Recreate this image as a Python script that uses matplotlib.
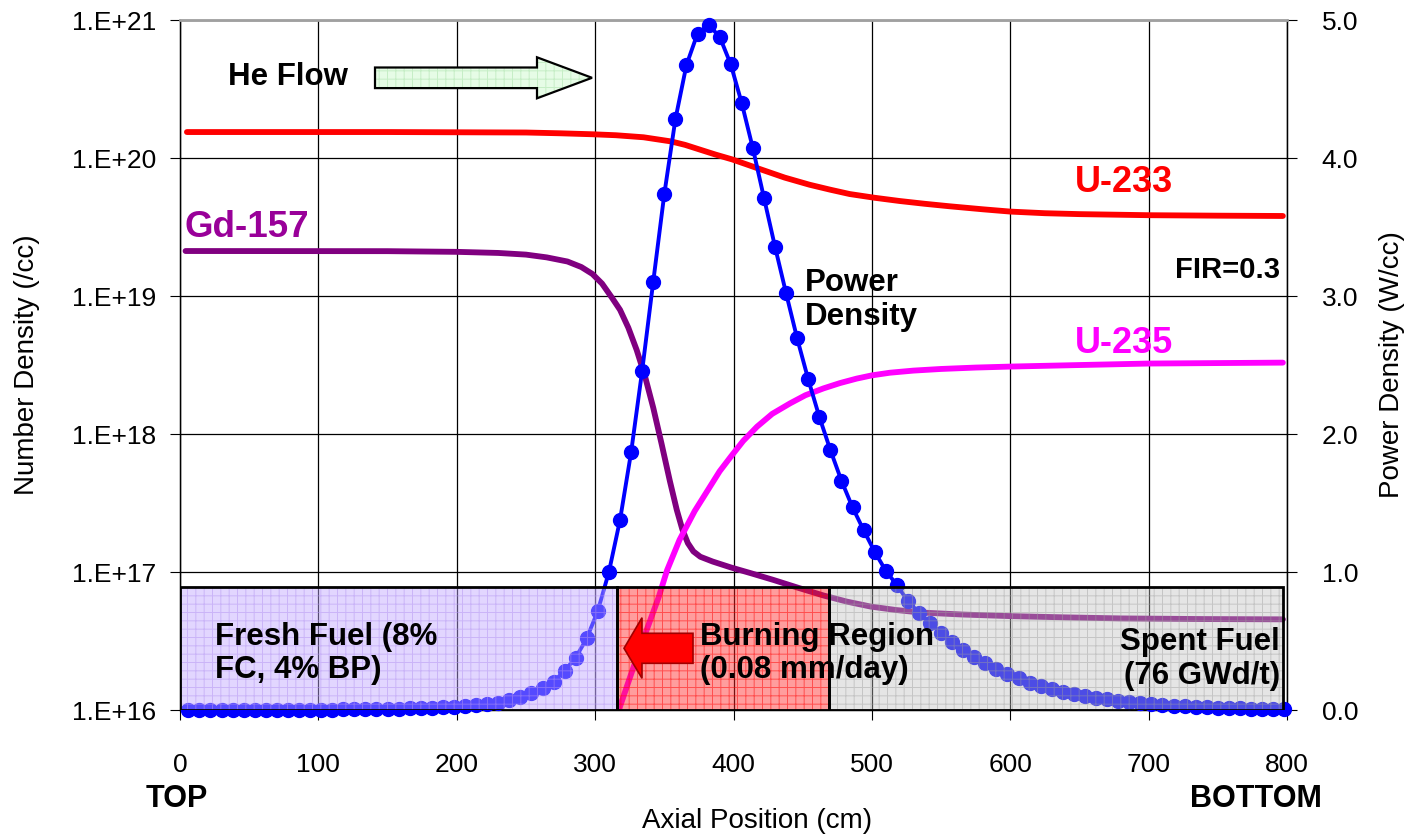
import numpy as np
import matplotlib
matplotlib.use('Agg')
import matplotlib.pyplot as plt
from matplotlib.patches import Polygon, Rectangle
from matplotlib.ticker import NullLocator

plt.rcParams['font.family'] = ['Liberation Sans', 'DejaVu Sans']
plt.rcParams['hatch.linewidth'] = 0.7

# power density on the axial mesh (cm), W/cc
axial_mesh = np.arange(6, 800, 8)
power_density = [
    0.0, 0.0, 0.0, 0.0, 0.0, 0.001, 0.001, 0.001, 0.001, 0.002,
    0.002, 0.002, 0.003, 0.003, 0.004, 0.005, 0.006, 0.007, 0.008, 0.009,
    0.011, 0.013, 0.016, 0.019, 0.023, 0.028, 0.035, 0.043, 0.054, 0.072,
    0.092, 0.120, 0.157, 0.205, 0.285, 0.380, 0.520, 0.720, 1.002, 1.377,
    1.867, 2.459, 3.104, 3.739, 4.280, 4.674, 4.902, 4.964, 4.879, 4.679,
    4.396, 4.070, 3.712, 3.357, 3.020, 2.693, 2.396, 2.125, 1.884, 1.662,
    1.469, 1.304, 1.147, 1.010, 0.906, 0.790, 0.705, 0.628, 0.560, 0.495,
    0.435, 0.382, 0.338, 0.295, 0.260, 0.230, 0.198, 0.174, 0.152, 0.133,
    0.116, 0.101, 0.087, 0.077, 0.067, 0.058, 0.050, 0.043, 0.037, 0.032,
    0.027, 0.023, 0.020, 0.017, 0.014, 0.012, 0.010, 0.008, 0.007, 0.006,
]

# number densities (/cc)
u233_x = [5, 150, 250, 275, 298, 315, 335, 355, 365, 376, 387, 399, 409, 419, 437,
          455, 470, 484, 502, 520, 538, 556, 580, 600, 625, 650, 700, 750, 797]
u233_nd = [1.542e20, 1.542e20, 1.53e20, 1.51e20, 1.486e20, 1.462e20, 1.413e20,
           1.318e20, 1.245e20, 1.148e20, 1.059e20, 9.77e19, 9.02e19, 8.32e19,
           7.21e19, 6.40e19, 5.89e19, 5.48e19, 5.15e19, 4.88e19, 4.66e19, 4.47e19,
           4.25e19, 4.09e19, 3.98e19, 3.92e19, 3.85e19, 3.82e19, 3.80e19]

gd157_x = [4, 150, 200, 230, 250, 265, 280, 290, 298, 305, 312, 318, 324, 330,
           336, 342, 348, 354, 359, 363, 367, 371, 376, 385, 398, 413, 429, 447,
           465, 482, 499, 517, 535, 565, 600, 640, 680, 740, 797]
gd157_nd = [2.118e19, 2.113e19, 2.089e19, 2.051e19, 1.995e19, 1.905e19, 1.778e19,
            1.622e19, 1.445e19, 1.230e19, 9.77e18, 7.94e18, 5.89e18, 4.07e18,
            2.63e18, 1.55e18, 8.51e17, 4.57e17, 2.82e17, 2.04e17, 1.62e17, 1.41e17,
            1.29e17, 1.19e17, 1.08e17, 9.77e16, 8.75e16, 7.67e16, 6.76e16, 6.10e16,
            5.62e16, 5.31e16, 5.09e16, 4.92e16, 4.79e16, 4.69e16, 4.61e16, 4.56e16,
            4.54e16]

u235_x = [316, 318, 326, 335, 346, 352, 361, 372, 383, 390, 398, 407, 417, 428,
          441, 452, 465, 477, 489, 500, 513, 530, 550, 575, 600, 650, 700, 797]
u235_nd = [9.0e15, 1.06e16, 1.82e16, 3.3e16, 6.6e16, 1.03e17, 1.71e17, 2.77e17,
           4.15e17, 5.37e17, 6.84e17, 8.91e17, 1.13e18, 1.40e18, 1.67e18, 1.91e18,
           2.14e18, 2.34e18, 2.52e18, 2.66e18, 2.78e18, 2.88e18, 2.96e18, 3.03e18,
           3.08e18, 3.16e18, 3.24e18, 3.29e18]

region_edges = [0, 316, 469, 797]
region_labels = ['Fresh Fuel (8%\nFC, 4% BP)', 'Burning Region\n(0.08 mm/day)',
                 'Spent Fuel\n(76 GWd/t)']

density_ticks = [1e16, 1e17, 1e18, 1e19, 1e20, 1e21]
density_labels = ['1.E+16', '1.E+17', '1.E+18', '1.E+19', '1.E+20', '1.E+21']
power_ticks = [0, 1, 2, 3, 4, 5]
power_labels = ['0.0', '1.0', '2.0', '3.0', '4.0', '5.0']

W, H = 1411, 835
L, R, T, B = 180, 1287, 20, 710
fig = plt.figure(figsize=(W / 100, H / 100), dpi=100)
ax = fig.add_axes([L / W, 1 - B / H, (R - L) / W, (B - T) / H])
ax2 = ax.twinx()


def frac(x, y):
    # pixel position in the picture -> axes fraction
    return ((x - L) / (R - L), (B - y) / (B - T))


# left axis: number density
ax.set_yscale('log')
ax.set_xlim(0, 800)
ax.set_ylim(1e16, 1e21)
ax.set_xticks(range(0, 801, 100))
ax.set_yticks(density_ticks)
ax.set_yticklabels(density_labels)
ax.yaxis.set_minor_locator(NullLocator())
ax.grid(True, color='black', lw=0.9)
ax.set_axisbelow(True)
ax.tick_params(axis='x', direction='out', length=7, pad=24, labelsize=19)
ax.tick_params(axis='y', direction='out', length=7, pad=10, labelsize=19)

ax.plot(u233_x, u233_nd, color='#FF0000', lw=4.2, solid_capstyle='round')
ax.plot(gd157_x, gd157_nd, color='#800080', lw=4.2, solid_capstyle='round')
ax.plot(u235_x, u235_nd, color='#FF00FF', lw=4.2, solid_capstyle='round')

# right axis: power density
ax2.set_ylim(0, 5)
ax2.set_yticks(power_ticks)
ax2.set_yticklabels(power_labels)
ax2.tick_params(axis='y', direction='out', length=7, pad=18, labelsize=19)
ax2.plot(axial_mesh, power_density, color='#0000FF', lw=2.8, marker='o',
         markersize=10, clip_on=False, zorder=3)

for s in ['left', 'right', 'bottom']:
    ax2.spines[s].set_color('black')
    ax2.spines[s].set_linewidth(1.0)
ax2.spines['top'].set_color('#A0A0A0')
ax2.spines['top'].set_linewidth(2.0)

# region boxes
box_top = 0.891
faces = [((0.75, 0.65, 1.0, 0.45), (0.70, 0.58, 0.95, 0.50)),
         ((1.0, 0.15, 0.15, 0.45), (1.0, 0.0, 0.0, 0.50)),
         ((0.75, 0.75, 0.75, 0.40), (0.62, 0.62, 0.62, 0.45))]
for i in range(3):
    x0, x1 = region_edges[i], region_edges[i + 1]
    face, hcol = faces[i]
    ax2.add_patch(Rectangle((x0, 0), x1 - x0, box_top, facecolor=face,
                            edgecolor=hcol, hatch='++', lw=0, zorder=5))
    ax2.add_patch(Rectangle((x0, 0), x1 - x0, box_top, fill=False,
                            edgecolor='black', lw=2.0, zorder=6))

bold = dict(fontweight='bold', fontsize=22.5, zorder=8, linespacing=1.15)
ax2.text(25, 0.41, region_labels[0], ha='left', va='center', **bold)
ax2.text(376, 0.41, region_labels[1], ha='left', va='center', **bold)
ax2.text(795, 0.37, region_labels[2], ha='right', va='center', **bold)

# He flow arrow (green) and burning direction arrow (red)
he = [frac(375, 67.5), frac(537, 67.5), frac(537, 57.3), frac(592, 77.8),
      frac(537, 98.3), frac(537, 88.1), frac(375, 88.1)]
ax2.add_patch(Polygon(he, closed=True, transform=ax2.transAxes, facecolor='#E6FCE6',
                      edgecolor='#C6EEC6', lw=0, hatch='++', zorder=7))
ax2.add_patch(Polygon(he, closed=True, transform=ax2.transAxes, fill=False,
                      edgecolor='black', lw=1.6, zorder=7))
burn = [frac(693, 633.3), frac(642, 633.3), frac(642, 617.7), frac(624, 648.3),
        frac(642, 678.3), frac(642, 663.3), frac(693, 663.3)]
ax2.add_patch(Polygon(burn, closed=True, transform=ax2.transAxes, facecolor='#FF0000',
                      edgecolor='#A00000', lw=1.2, zorder=7))

# annotations
ax.text(34.7, 10 ** 20.587, 'He Flow', fontsize=22.5, fontweight='bold', va='center')
ax.text(3.6, 10 ** 19.493, 'Gd-157', fontsize=26.5, fontweight='bold', va='center',
        color='#990099')
ax.text(647, 10 ** 19.819, 'U-233', fontsize=26, fontweight='bold', va='center',
        color='#FF0000')
ax.text(647, 10 ** 18.659, 'U-235', fontsize=26, fontweight='bold', va='center',
        color='#FF00FF')
ax.text(795, 10 ** 19.188, 'FIR=0.3', fontsize=21, fontweight='bold', va='center',
        ha='right')
ax.text(451.7, 10 ** 18.971, 'Power\nDensity', fontsize=22.5, fontweight='bold',
        va='center', linespacing=1.15)

# axis titles
fig.text(27 / W, 1 - 365 / H, 'Number Density (/cc)', rotation=90, fontsize=20,
         ha='center', va='center')
fig.text(1392 / W, 1 - 365 / H, 'Power Density (W/cc)', rotation=90, fontsize=20,
         ha='center', va='center')
fig.text(757 / W, 1 - 821 / H, 'Axial Position (cm)', fontsize=20, ha='center',
         va='center')
fig.text(177 / W, 1 - 799 / H, 'TOP', fontsize=22, fontweight='bold', ha='center',
         va='center')
fig.text(1256 / W, 1 - 799 / H, 'BOTTOM', fontsize=22, fontweight='bold',
         ha='center', va='center')

fig.savefig('out.png', dpi=100)
